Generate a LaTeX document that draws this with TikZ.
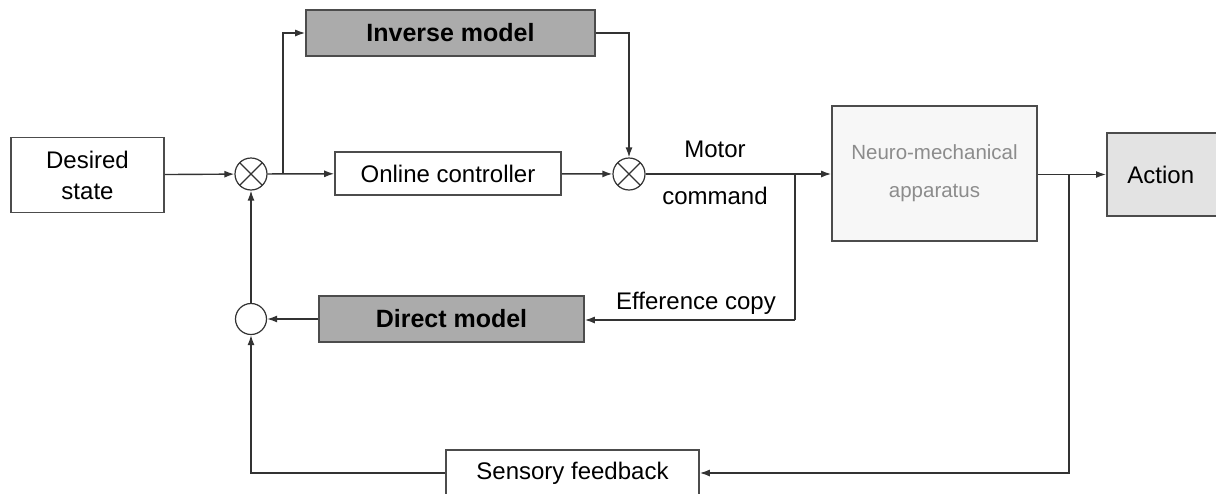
\documentclass[tikz,border=0pt]{standalone}
\usepackage{fontspec}
\setmainfont{Liberation Sans}
\usetikzlibrary{arrows.meta,calc}
\begin{document}
\begin{tikzpicture}[x=1pt,y=-1pt,
  box/.style={draw=black!70,line width=1.6pt,inner sep=0pt,align=center,font=\fontsize{24}{29}\selectfont},
  sumx/.style={draw=black!80,line width=1.2pt,circle,minimum size=32pt,inner sep=0pt,
    path picture={\draw[line width=1.1pt,black!80] (path picture bounding box.north west)--(path picture bounding box.south east)
      (path picture bounding box.north east)--(path picture bounding box.south west);}},
  sumo/.style={draw=black!80,line width=1.2pt,circle,minimum size=31pt,inner sep=0pt,fill=white},
  conn/.style={draw=black!80,line width=1.4pt,-{Latex[length=10pt,width=7pt]}},
  line/.style={draw=black!80,line width=1.4pt},
  lbl/.style={font=\fontsize{24}{29}\selectfont,inner sep=0pt}]
\clip (0,0) rectangle (1216,493);
\fill[white] (0,0) rectangle (1216,493);
% nodes
\node[box,minimum width=153pt,minimum height=75pt,font=\fontsize{24}{31}\selectfont] (ds) at (87.5,175) {Desired\\state};
\node[sumx] (c1) at (251,174) {};
\node[box,fill=black!33,minimum width=289pt,minimum height=46pt,font=\fontsize{25}{30}\selectfont\bfseries] (inv) at (450.5,33) {Inverse model};
\node[box,minimum width=226pt,minimum height=43pt] (oc) at (448,173.5) {Online controller};
\node[sumx] (c2) at (629,174) {};
\node[lbl] (motor) at (715,149) {Motor};
\node[lbl] (cmd) at (715,196) {command};
\node[box,fill=black!3,minimum width=205pt,minimum height=135pt,font=\fontsize{20.5}{38}\selectfont\color{black!45}] (nm) at (934.5,173.5) {Neuro-mechanical\\apparatus};
\node[box,fill=black!11,minimum width=114pt,minimum height=83pt,anchor=west] (act) at (1106,174.5) {\hspace*{-6pt}Action};
\node[box,fill=black!33,minimum width=265pt,minimum height=46pt,font=\fontsize{25}{30}\selectfont\bfseries] (dm) at (451.5,319) {Direct model};
\node[sumo] (c3) at (251,319) {};
\node[lbl] (eff) at (696,303) {Efference copy};
\node[box,fill=white,minimum width=253pt,minimum height=46pt] (sf) at (572.5,473) {\raisebox{2pt}{Sensory feedback}};
\coordinate (b1) at (283,174);
\coordinate (j1) at (795,174);
\coordinate (j2) at (1069,174.5);
% connectors
\draw[conn] (ds) -- (c1);
\draw[conn] (c1) -- (oc);
\draw[conn] (b1) |- (inv.west);
\draw[conn] (inv.east) -| (c2.north);
\draw[conn] (oc) -- (c2);
\draw[conn] (c2) -- (nm.west|-c2);
\draw[line] (j1) |- (795,320);
\draw[conn] (795,320) -- (dm.east|-0,320);
\draw[conn] (dm) -- (c3);
\draw[conn] (c3) -- (c1);
\draw[conn] (nm.east|-j2) -- (act.west|-j2);
\draw[conn] (j2) |- (sf.east);
\draw[conn] (sf.west) -| (c3.south);
\end{tikzpicture}
\end{document}
